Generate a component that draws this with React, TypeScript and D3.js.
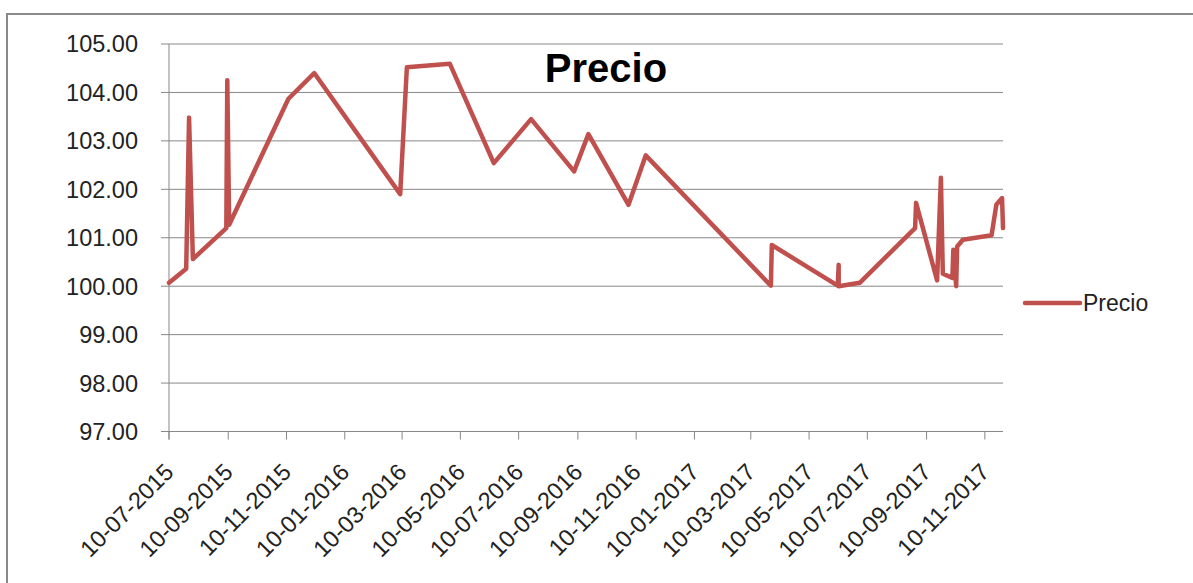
import React from "react";
import * as d3 from "d3";

const dates: string[] = [
  "2015-07-10", "2015-07-28", "2015-07-31", "2015-08-04", "2015-09-08", "2015-09-09",
  "2015-09-11", "2015-11-12", "2015-12-09", "2016-03-08", "2016-03-15", "2016-04-29",
  "2016-06-14", "2016-07-23", "2016-09-06", "2016-09-21", "2016-11-02", "2016-11-20",
  "2017-03-31", "2017-04-01", "2017-06-09", "2017-06-10", "2017-06-10", "2017-07-02",
  "2017-08-29", "2017-08-30", "2017-09-21", "2017-09-25", "2017-09-27", "2017-10-07",
  "2017-10-08", "2017-10-11", "2017-10-12", "2017-10-18", "2017-11-17", "2017-11-22",
  "2017-11-28", "2017-11-29",
];
const precio: number[] = [
  100.07, 100.36, 103.48, 100.56, 101.2, 104.25,
  101.27, 103.87, 104.4, 101.9, 104.52, 104.59,
  102.54, 103.45, 102.37, 103.14, 101.68, 102.7,
  100.01, 100.85, 100.01, 100.44, 100.0, 100.07,
  101.2, 101.72, 100.12, 102.24, 100.26, 100.17,
  100.75, 100.0, 100.82, 100.96, 101.05, 101.68,
  101.82, 101.2,
];
const yTicks: number[] = [97, 98, 99, 100, 101, 102, 103, 104, 105];
const xTickLabels: string[] = [
  "10-07-2015", "10-09-2015", "10-11-2015", "10-01-2016", "10-03-2016", "10-05-2016",
  "10-07-2016", "10-09-2016", "10-11-2016", "10-01-2017", "10-03-2017", "10-05-2017",
  "10-07-2017", "10-09-2017", "10-11-2017",
];
const seriesName = "Precio";
const title = "Precio";

const parse = d3.utcParse("%Y-%m-%d");
const parseLabel = d3.utcParse("%d-%m-%Y");

export default function App() {
  const W = 1193, H = 583;
  const left = 169, right = 1003, top = 44, bottom = 431.5;
  const x = d3.scaleUtc()
    .domain([parse(dates[0]) as Date, parse(dates[dates.length - 1]) as Date])
    .range([left, right]);
  const y = d3.scaleLinear().domain([97, 105]).range([bottom, top]);
  const data = dates.map((d, i) => ({ d: parse(d) as Date, v: precio[i] }));
  const line = d3.line<{ d: Date; v: number }>().x((p) => x(p.d)).y((p) => y(p.v));
  const grid = "#878787";
  const font = "'Liberation Sans', Arial, sans-serif";
  const red = "#C0504D";

  return (
    <svg width={W} height={H} style={{ position: "absolute", left: 0, top: 0, background: "#fff" }}>
      <rect x={0} y={0} width={W} height={H} fill="#fff" />
      <rect x={7} y={14} width={W + 20} height={H + 20} fill="none" stroke="#8a8a8a" strokeWidth={2} />
      {yTicks.map((t) => (
        <g key={t}>
          <line x1={left - 8} x2={right} y1={y(t)} y2={y(t)} stroke={grid} strokeWidth={1} />
          <text x={138} y={y(t)} dy="0.36em" textAnchor="end" fontFamily={font} fontSize={23.5} fill="#222">
            {t.toFixed(2)}
          </text>
        </g>
      ))}
      <line x1={left} x2={left} y1={top} y2={bottom + 8} stroke={grid} strokeWidth={1} />
      {xTickLabels.map((lab) => {
        const px = x(parseLabel(lab) as Date);
        return (
          <g key={lab}>
            <line x1={px} x2={px} y1={bottom} y2={bottom + 8} stroke={grid} strokeWidth={1} />
            <text
              transform={`translate(${px + 6},${bottom + 42}) rotate(-45)`}
              textAnchor="end"
              fontFamily={font}
              fontSize={23.5}
              fill="#222"
            >
              {lab}
            </text>
          </g>
        );
      })}
      <path d={line(data) || ""} fill="none" stroke={red} strokeWidth={4.5} strokeLinejoin="round" strokeLinecap="round" />
      <text x={606} y={82} textAnchor="middle" fontFamily={font} fontWeight="bold" fontSize={40} fill="#000">
        {title}
      </text>
      <line x1={1025} x2={1080} y1={303} y2={303} stroke={red} strokeWidth={4.5} strokeLinecap="round" />
      <text x={1083} y={303} dy="0.36em" fontFamily={font} fontSize={23} fill="#222">
        {seriesName}
      </text>
    </svg>
  );
}
